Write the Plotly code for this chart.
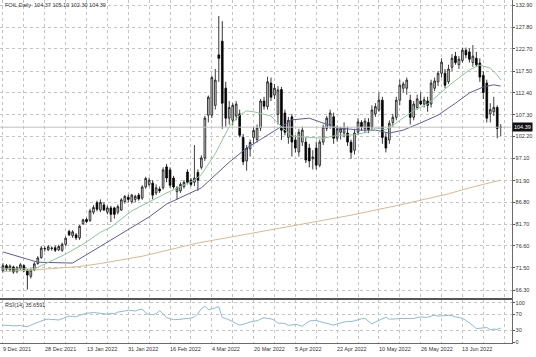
import plotly.graph_objects as go

# ---------------- data ----------------
bars = list(range(144))
date_ticks = [0, 12, 24, 36, 48, 60, 72, 84, 96, 108, 120, 132]
date_labels = ["9 Dec 2021", "28 Dec 2021", "13 Jan 2022", "31 Jan 2022", "16 Feb 2022",
               "4 Mar 2022", "20 Mar 2022", "5 Apr 2022", "22 Apr 2022", "10 May 2022",
               "26 May 2022", "13 Jun 2022"]
price_ticks = [66.30, 71.50, 76.60, 81.70, 86.80, 91.90, 97.10, 102.20, 107.30,
               112.40, 117.50, 122.70, 127.80, 132.90]
rsi_ticks = [0, 30, 70, 100]

opens = [70.8, 72.0, 71.0, 71.7, 70.6, 71.4, 72.0, 70.9, 69.5, 71.0,
         72.5, 73.9, 75.9, 75.7, 76.0, 76.2, 75.7, 75.6, 77.0, 80.0,
         79.0, 79.2, 78.5, 81.8, 82.8, 82.6, 84.5, 86.7, 85.0, 86.2,
         84.5, 85.5, 85.5, 84.5, 85.0, 87.0, 88.0, 87.0, 87.5, 88.5,
         87.8, 90.4, 91.0, 91.3, 89.0, 89.9, 90.2, 95.1, 94.4, 92.5,
         89.3, 89.5, 90.5, 93.9, 92.0, 91.5, 93.8, 95.0, 97.2, 107.2,
         107.2, 109.5, 121.3, 124.5, 113.5, 106.5, 106.0, 107.0, 107.5, 102.0,
         96.5, 99.3, 102.0, 101.5, 104.2, 110.5, 109.2, 114.7, 111.9, 107.4,
         113.2, 107.7, 102.0, 106.8, 101.4, 98.6, 100.9, 100.9, 99.5, 97.0,
         99.5, 95.5, 100.9, 104.1, 104.9, 106.8, 101.8, 103.2, 103.0, 103.0,
         100.9, 99.0, 103.2, 105.5, 104.0, 105.5, 104.4, 107.5, 108.4, 110.7,
         102.0, 101.4, 105.5, 106.7, 110.7, 113.5, 113.5, 110.7, 106.7, 109.0,
         110.5, 109.8, 110.5, 109.8, 113.5, 115.0, 117.0, 117.0, 115.0, 118.4,
         121.0, 119.0, 120.0, 122.4, 122.0, 119.5, 120.5, 119.4, 116.5, 114.7,
         107.5, 108.0, 109.0, 104.37]
highs = [72.6, 72.4, 72.3, 72.0, 71.9, 72.6, 72.3, 71.2, 71.3, 72.8,
         74.2, 76.6, 76.5, 76.8, 76.5, 76.7, 76.9, 77.4, 78.8, 80.4,
         80.3, 79.6, 81.5, 83.0, 83.2, 85.3, 86.2, 87.2, 87.5, 86.8,
         86.0, 86.0, 85.8, 86.3, 87.8, 88.5, 88.6, 88.8, 88.6, 89.0,
         90.8, 92.8, 92.6, 92.0, 91.0, 90.5, 95.0, 95.8, 95.0, 93.0,
         90.6, 91.5, 92.0, 94.5, 92.5, 100.2, 94.5, 97.8, 107.0, 111.8,
         116.5, 118.0, 130.4, 129.2, 115.0, 110.5, 110.0, 110.5, 108.5, 102.8,
         100.2, 101.5, 104.5, 105.0, 111.0, 111.5, 116.2, 116.0, 114.5, 114.0,
         113.8, 108.5, 106.8, 107.5, 102.5, 104.0, 104.5, 102.0, 100.5, 99.0,
         101.0, 101.5, 105.0, 107.0, 108.5, 107.8, 104.8, 104.5, 105.5, 104.5,
         101.5, 104.0, 106.5, 106.0, 106.5, 106.5, 109.5, 110.0, 112.5, 111.5,
         103.0, 106.0, 107.5, 111.5, 115.5, 115.0, 116.0, 112.0, 110.5, 112.0,
         112.5, 111.5, 111.5, 115.5, 116.0, 117.5, 120.5, 118.0, 119.0, 121.5,
         122.0, 121.0, 123.0, 123.0, 122.8, 123.6, 122.0, 120.5, 117.5, 115.5,
         110.0, 111.5, 109.5, 105.10]
lows = [70.4, 70.8, 70.6, 70.1, 70.2, 71.0, 70.5, 66.4, 69.0, 70.7,
        72.2, 73.6, 75.3, 75.4, 75.5, 75.2, 75.4, 75.2, 76.6, 78.9,
        78.5, 78.0, 78.0, 81.5, 82.0, 82.2, 84.0, 84.7, 84.5, 84.8,
        84.0, 82.2, 83.0, 84.0, 84.8, 86.5, 86.8, 86.5, 86.8, 87.2,
        87.4, 90.0, 90.5, 87.5, 88.5, 89.0, 89.8, 91.5, 90.2, 90.0,
        87.4, 89.0, 90.0, 91.0, 90.5, 90.6, 89.5, 94.5, 96.5, 105.5,
        106.5, 108.5, 115.0, 104.0, 104.5, 105.0, 104.8, 106.0, 102.0, 95.5,
        94.2, 97.5, 100.5, 100.8, 103.5, 108.5, 108.5, 110.5, 111.0, 105.0,
        101.4, 102.5, 100.5, 97.5, 98.5, 97.5, 100.0, 96.0, 95.0, 94.5,
        94.5, 95.0, 100.2, 103.5, 104.0, 100.5, 101.0, 101.5, 102.0, 100.0,
        97.0, 98.0, 102.5, 103.5, 103.0, 103.0, 103.5, 106.8, 108.0, 100.5,
        98.5, 100.5, 104.5, 106.0, 109.5, 112.5, 112.0, 105.0, 106.0, 108.5,
        109.5, 109.0, 108.0, 109.0, 112.8, 114.0, 116.0, 113.5, 114.5, 117.5,
        119.0, 118.0, 119.5, 120.5, 119.5, 118.5, 118.5, 115.0, 111.0, 105.5,
        105.5, 107.0, 101.8, 102.30]
closes = [72.0, 71.2, 71.9, 70.5, 71.5, 72.2, 70.8, 69.8, 71.0, 72.4,
          73.8, 76.1, 76.0, 76.4, 76.1, 75.6, 76.5, 77.0, 78.4, 79.2,
          79.9, 78.5, 81.2, 82.7, 82.3, 84.8, 85.6, 85.2, 86.8, 85.0,
          85.5, 84.0, 84.0, 85.8, 87.4, 88.2, 87.5, 88.5, 88.2, 87.6,
          90.4, 92.4, 92.0, 88.5, 90.2, 89.5, 94.4, 92.5, 90.8, 90.4,
          90.2, 91.0, 91.5, 91.5, 91.0, 92.5, 92.0, 97.2, 106.5, 111.4,
          116.0, 115.4, 120.5, 110.0, 106.5, 109.0, 109.5, 109.8, 102.5, 96.3,
          99.5, 100.8, 103.6, 104.2, 110.5, 109.3, 115.0, 111.4, 113.5, 113.1,
          103.7, 103.2, 106.0, 100.9, 99.5, 103.2, 103.7, 96.7, 96.5, 97.4,
          95.5, 100.9, 104.4, 106.5, 107.7, 101.8, 104.0, 104.0, 104.2, 100.9,
          98.5, 103.0, 105.6, 104.5, 105.8, 103.8, 108.4, 109.2, 110.7, 102.0,
          99.5, 105.3, 106.7, 110.7, 114.2, 114.5, 115.4, 106.7, 109.8, 111.0,
          109.8, 110.8, 109.5, 114.7, 115.2, 117.0, 119.6, 114.2, 118.0, 120.5,
          119.5, 120.3, 122.4, 121.3, 120.3, 121.0, 119.0, 116.1, 112.5, 106.5,
          108.5, 109.0, 104.1, 104.39]

# moving averages (bar index, value)
ma_fast_bars = [0, 5, 9, 18, 23, 28, 31, 37, 47, 55, 57, 61, 65, 68, 70, 72, 77, 80, 83,
                88, 92, 96, 101, 105, 107, 110, 113, 118, 122, 125, 129, 134, 137, 140, 142, 143]
ma_fast_vals = [71.3, 71.2, 71.2, 74.7, 77.0, 79.8, 81.0, 84.8, 89.0, 92.0, 93.3, 98.2, 104.5,
                107.2, 108.2, 108.0, 107.0, 104.5, 102.3, 102.0, 101.8, 102.5, 102.6, 103.3,
                104.2, 103.8, 105.4, 108.3, 109.8, 111.9, 114.7, 117.8, 118.9, 118.2, 116.6, 115.4]
ma_mid_bars = [0, 10, 20, 31, 42, 47, 57, 65, 70, 74, 77, 80, 83, 88, 91, 96, 103, 107,
               111, 115, 120, 125, 130, 134, 138, 141, 143]
ma_mid_vals = [75.2, 72.8, 72.6, 78.0, 83.4, 86.4, 90.2, 96.2, 99.5, 101.5, 103.0, 104.4,
               106.1, 106.5, 105.6, 104.2, 103.7, 103.7, 103.0, 103.7, 105.4, 107.2, 110.0,
               112.4, 113.8, 114.3, 114.0]
ma_slow_bars = [0, 9, 22, 28, 40, 56, 71, 85, 100, 114, 128, 134, 143]
ma_slow_vals = [70.6, 71.0, 71.8, 72.5, 74.2, 77.3, 79.5, 81.6, 83.8, 86.2, 88.8, 90.2, 92.0]

rsi_vals = [43, 43, 42, 41, 42, 42, 40, 39, 43, 47,
            50, 55, 57, 58, 58, 57, 56, 60, 63, 66,
            65, 64, 68, 71, 73, 74, 75, 74, 73, 72,
            71, 73, 72, 76, 77, 79, 81, 80, 79, 82,
            84, 74, 70, 70, 72, 80, 72, 63, 59, 57,
            57, 58, 59, 60, 61, 64, 72, 85, 91, 82,
            84, 87, 90, 62, 60, 57, 52, 47, 43, 45,
            49, 51, 53, 54, 58, 62, 60, 59, 55, 48,
            48, 47, 42, 44, 45, 43, 40, 47, 53, 55,
            55, 52, 50, 47, 45, 43, 46, 49, 51, 52,
            52, 54, 57, 59, 60, 52, 46, 51, 55, 60,
            63, 58, 58, 59, 60, 60, 60, 60, 60, 62,
            64, 63, 63, 66, 68, 66, 66, 67, 68, 67,
            64, 62, 60, 55, 49, 42, 34, 35, 37, 37,
            31, 33, 32, 35.66]

# ---------------- figure ----------------
W, H = 536, 357
FONT = "Liberation Sans"
TXT = "#333333"
GRID = "#c4c4c4"

def py(p):  # pixel-from-top -> paper
    return (H - p) / H

fig = go.Figure()
fig.add_trace(go.Scatter(x=ma_slow_bars, y=ma_slow_vals, mode="lines",
                         line=dict(color="#d9b991", width=1), hoverinfo="skip"))
fig.add_trace(go.Scatter(x=ma_mid_bars, y=ma_mid_vals, mode="lines",
                         line=dict(color="#5d5d9e", width=1), hoverinfo="skip"))
fig.add_trace(go.Scatter(x=ma_fast_bars, y=ma_fast_vals, mode="lines",
                         line=dict(color="#8cc79c", width=1), hoverinfo="skip"))
fig.add_trace(go.Candlestick(
    x=bars, open=opens, high=highs, low=lows, close=closes,
    increasing=dict(fillcolor="#d6d6d6", line=dict(color="#111111", width=0.8)),
    decreasing=dict(fillcolor="#000000", line=dict(color="#000000", width=0.8)),
    whiskerwidth=0, hoverinfo="skip"))
fig.add_trace(go.Scatter(x=bars, y=rsi_vals, mode="lines", xaxis="x2", yaxis="y2",
                         line=dict(color="#8dbad6", width=1), hoverinfo="skip"))

xr = [-0.86, 146.1]
xdom = [0.0, 511.5 / W]
grid_x = list(range(0, 145, 6))

common_x = dict(range=xr, domain=xdom, tickvals=grid_x, showticklabels=False,
                showgrid=True, gridcolor=GRID, griddash="dot", gridwidth=1,
                zeroline=False, showline=True, mirror=True, linecolor="#6a6a6a",
                linewidth=1, ticks="", fixedrange=True)

fig.update_layout(
    width=W, height=H,
    margin=dict(l=0, r=0, t=0, b=0),
    paper_bgcolor="white", plot_bgcolor="white",
    showlegend=False,
    xaxis=dict(**common_x, anchor="y", rangeslider=dict(visible=False)),
    xaxis2=dict(**common_x, anchor="y2"),
    yaxis=dict(domain=[py(298), py(0)], range=[64.43, 134.14], side="right",
               tickvals=price_ticks, ticktext=[f"{v:.2f}" for v in price_ticks],
               tickfont=dict(family=FONT, size=5.5, color=TXT),
               ticks="outside", ticklen=2, tickcolor="#555",
               ticklabeloverflow="allow",
               showgrid=True, gridcolor=GRID, griddash="dot", zeroline=False,
               showline=True, mirror=True, linecolor="#6a6a6a", linewidth=1,
               automargin=False, fixedrange=True),
    yaxis2=dict(domain=[py(343), py(300)], range=[-2.5, 106.9], side="right",
                tickvals=rsi_ticks, ticktext=[str(v) for v in rsi_ticks],
                tickfont=dict(family=FONT, size=5.5, color=TXT),
                ticks="outside", ticklen=2, tickcolor="#555",
                ticklabeloverflow="allow",
                showgrid=True, gridcolor=GRID, griddash="dot", zeroline=False,
                showline=True, mirror=True, linecolor="#6a6a6a", linewidth=1,
                automargin=False, fixedrange=True),
)

# bid line at last close
fig.add_shape(type="line", xref="x", yref="y", x0=xr[0], x1=xr[1],
              y0=closes[-1], y1=closes[-1], line=dict(color="#c0c0c0", width=1))
# thicker separator between panels
fig.add_shape(type="line", xref="paper", yref="paper", x0=0, x1=xdom[1],
              y0=py(299), y1=py(299), line=dict(color="#555555", width=2))

ann = []
ann.append(dict(text="FOIL,Daily  104.37 105.10 102.30 104.39", x=0.006, y=py(5),
                xref="paper", yref="paper", xanchor="left", yanchor="middle",
                showarrow=False, font=dict(family=FONT, size=5.5, color=TXT)))
ann.append(dict(text="RSI(14) 35.6591", x=0.006, y=py(305),
                xref="paper", yref="paper", xanchor="left", yanchor="middle",
                showarrow=False, font=dict(family=FONT, size=5.5, color=TXT)))
ann.append(dict(text=f"{closes[-1]:.2f}", x=xdom[1] + 0.001, y=closes[-1],
                xref="paper", yref="y", xanchor="left", yanchor="middle",
                showarrow=False, bgcolor="#111111", borderpad=1,
                font=dict(family=FONT, size=5.5, color="white")))
for b, lab in zip(date_ticks, date_labels):
    ann.append(dict(text=lab, x=b, y=py(349), xref="x2", yref="paper",
                    xanchor="left", yanchor="middle", xshift=-2, showarrow=False,
                    font=dict(family=FONT, size=5.5, color=TXT)))
fig.update_layout(annotations=ann)

fig.write_html("out.html", config={"displayModeBar": False},
               post_script="document.body.style.margin='0px';"
               "document.body.style.overflow='hidden';")
